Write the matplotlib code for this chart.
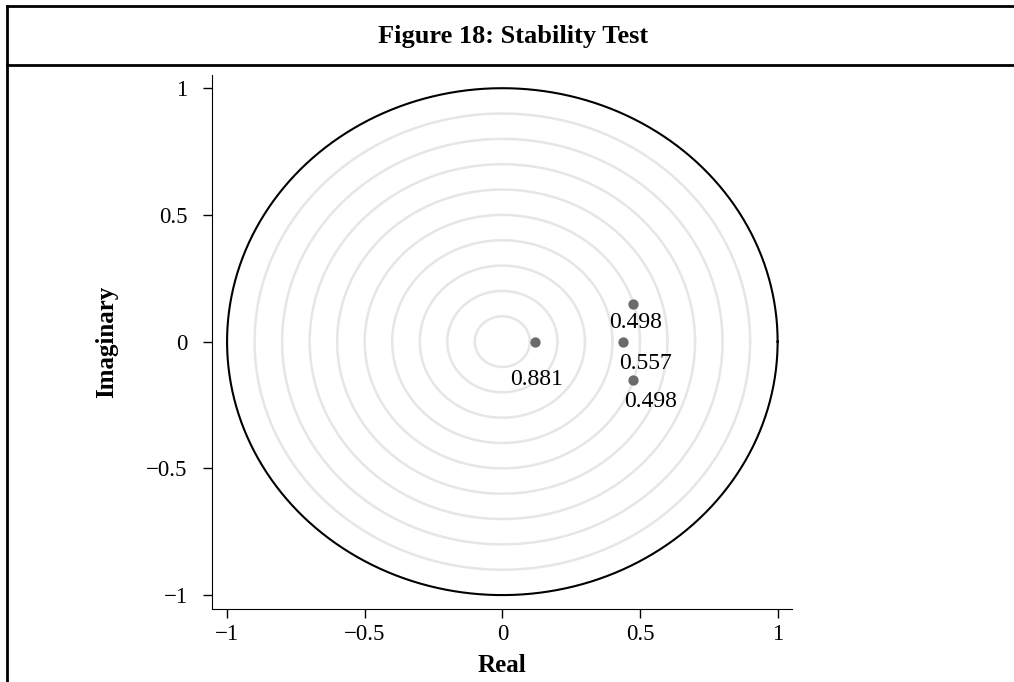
import matplotlib.pyplot as plt
import numpy as np

# Eigenvalues (real and imaginary parts) with their labels
real = [0.119, 0.440, 0.476, 0.476]
imag = [0.0, 0.0, 0.150, -0.150]
labels = ['0.881', '0.557', '0.498', '0.498']
# label offsets in pixels (dx, dy)
offsets = [(1, -38), (22, -22), (2, -19), (17, -22)]

grid_radii = [0.1, 0.2, 0.3, 0.4, 0.5, 0.6, 0.7, 0.8, 0.9]
ticks = [-1, -0.5, 0, 0.5, 1]
tick_labels = ['\u22121', '\u22120.5', '0', '0.5', '1']

plt.rcParams['font.family'] = ['Liberation Serif', 'DejaVu Serif']

fig = plt.figure(figsize=(10.14, 6.82), dpi=100)
ax = fig.add_axes([0.209, 0.107, 0.572, 0.783])

t = np.linspace(0, 2 * np.pi, 400)
for r in grid_radii:
    ax.plot(r * np.cos(t), r * np.sin(t), color='#e6e6e6', lw=1.8, zorder=1)
ax.plot(np.cos(t), np.sin(t), color='black', lw=1.5, zorder=2)

ax.scatter(real, imag, s=55, color='#6b6b6b', zorder=3, linewidths=0)
for x, y, lab, (dx, dy) in zip(real, imag, labels, offsets):
    ax.annotate(lab, (x, y), xytext=(dx, dy), textcoords='offset pixels',
                ha='center', va='center', fontsize=17, zorder=4)

ax.set_xlim(-1.055, 1.052)
ax.set_ylim(-1.055, 1.052)
ax.set_xticks(ticks)
ax.set_xticklabels(tick_labels)
ax.set_yticks(ticks)
ax.set_yticklabels(tick_labels)
ax.tick_params(direction='out', length=6.5, width=1, labelsize=16.5)
ax.tick_params(axis='y', pad=11)
ax.tick_params(axis='x', pad=4)
ax.spines['top'].set_visible(False)
ax.spines['right'].set_visible(False)
ax.set_xlabel('Real', fontsize=18, fontweight='bold', labelpad=7)
ax.set_ylabel('Imaginary', fontsize=18, fontweight='bold', labelpad=20)

# frame and title band
fig.add_artist(plt.Line2D([0.007, 1.0], [0.991, 0.991], color='black', lw=2, transform=fig.transFigure))
fig.add_artist(plt.Line2D([0.007, 1.0], [0.905, 0.905], color='black', lw=2, transform=fig.transFigure))
fig.add_artist(plt.Line2D([0.007, 0.007], [0.0, 0.991], color='black', lw=2, transform=fig.transFigure))
fig.text(0.506, 0.947, 'Figure 18: Stability Test', ha='center', va='center',
         fontsize=19, fontweight='bold')

fig.savefig('out.png', dpi=100)
